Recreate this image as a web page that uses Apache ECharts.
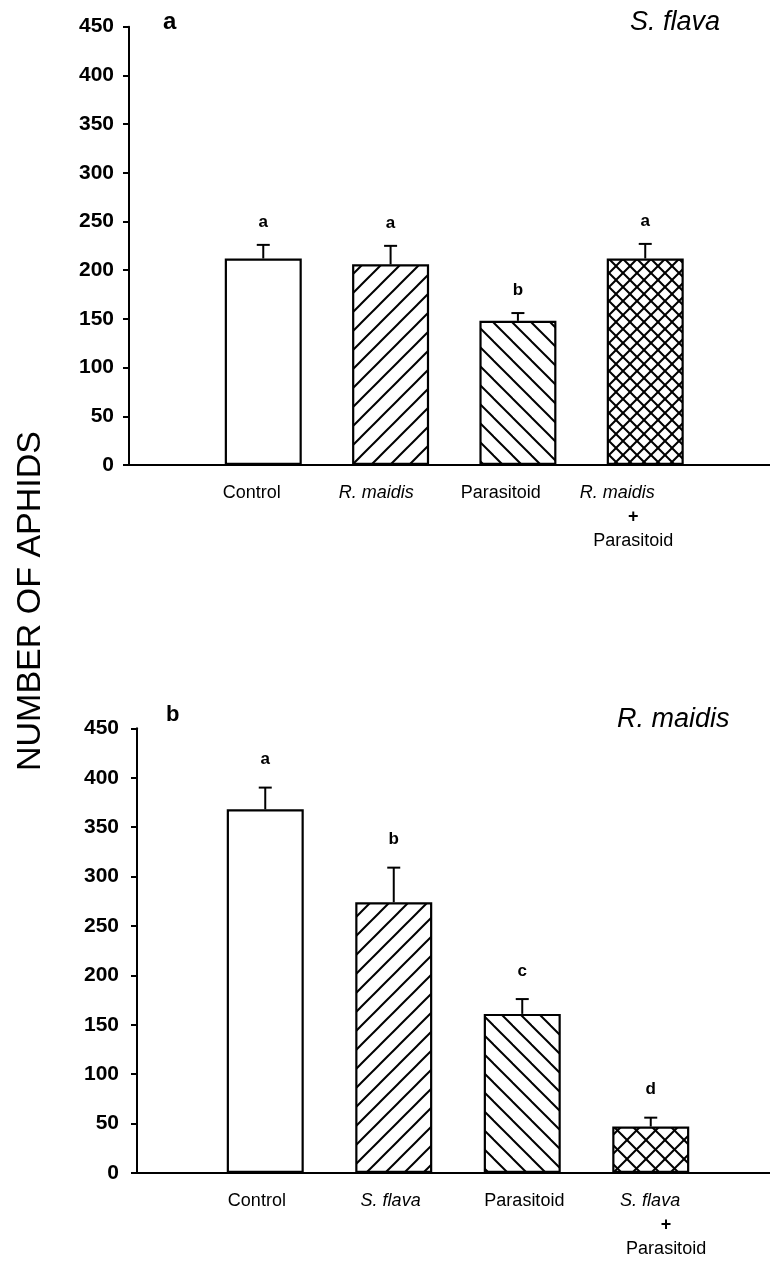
<!DOCTYPE html>
<html>
<head>
<meta charset="utf-8">
<script src="https://cdn.jsdelivr.net/npm/echarts@6/dist/echarts.min.js"></script>
<style>
html, body { margin: 0; padding: 0; background: #fff; }
#main { width: 770px; height: 1262px; }
</style>
</head>
<body>
<div id="main"></div>
<script>
// panel a : S. flava
var catsA = ['Control', 'R. maidis', 'Parasitoid', 'R. maidis + Parasitoid'];
var meanA = [212, 206, 148, 212];
var errA = [14, 19, 8, 15];
var lettersA = ['a', 'a', 'b', 'a'];
// panel b : R. maidis
var catsB = ['Control', 'S. flava', 'Parasitoid', 'S. flava + Parasitoid'];
var meanB = [368, 274, 161, 47];
var errB = [22, 35, 15, 9];
var lettersB = ['a', 'b', 'c', 'd'];
// y axis ticks
var yMin = 0, yMax = 450, yStep = 50;

var FONT = 'Arial, "Liberation Sans", sans-serif';

// hatch fills
function hatch(kind, s) {
	var c = document.createElement('canvas');
	c.width = s; c.height = s;
	var g = c.getContext('2d');
	g.fillStyle = '#fff';
	g.fillRect(0, 0, s, s);
	g.strokeStyle = '#000';
	g.lineWidth = 2;
	function seg(x1, y1, x2, y2) { g.beginPath(); g.moveTo(x1, y1); g.lineTo(x2, y2); g.stroke(); }
	if (kind == 'fwd' || kind == 'cross') {
		seg(-1, s + 1, s + 1, -1); seg(-1, 1, 1, -1); seg(s - 1, s + 1, s + 1, s - 1);
	}
	if (kind == 'back' || kind == 'cross') {
		seg(-1, -1, s + 1, s + 1); seg(s - 1, -1, s + 1, 1); seg(-1, s - 1, 1, s + 1);
	}
	return { image: c, repeat: 'repeat' };
}

var grids = [], xAxes = [], yAxes = [], series = [];

function addPanel(p) {
	var g0 = grids.length;
	// axis frame grid (y axis + long x axis line)
	grids.push({ left: p.axisX, right: 0, top: p.top, height: p.height });
	// bars grid
	grids.push({ left: p.barL, right: p.barR, top: p.top, height: p.height });
	// category labels grid
	grids.push({ left: p.labL, right: p.labR, top: p.top, height: p.height });

	xAxes.push({
		gridIndex: g0, type: 'value', min: 0, max: 1,
		axisLine: { show: true, onZero: false, lineStyle: { color: '#000', width: 2 } },
		axisTick: { show: false }, axisLabel: { show: false }, splitLine: { show: false }
	});
	yAxes.push({
		gridIndex: g0, type: 'value', min: yMin, max: yMax, interval: yStep,
		axisLine: { show: true, onZero: false, lineStyle: { color: '#000', width: 2 } },
		axisTick: { show: true, length: 6, lineStyle: { color: '#000', width: 2 } },
		axisLabel: { color: '#000', fontSize: 21, fontWeight: 'bold', fontFamily: FONT, margin: p.tickMargin },
		splitLine: { show: false }
	});

	xAxes.push({
		gridIndex: g0 + 1, type: 'category', data: p.cats,
		axisLine: { show: false }, axisTick: { show: false }, axisLabel: { show: false }
	});
	yAxes.push({ gridIndex: g0 + 1, type: 'value', min: yMin, max: yMax, show: false });

	xAxes.push({
		gridIndex: g0 + 2, type: 'category', data: p.cats,
		axisLine: { show: false }, axisTick: { show: false },
		axisLabel: {
			interval: 0, margin: 16, color: '#000', fontSize: 18, fontFamily: FONT,
			formatter: function (v) {
				var parts = v.split(' + ');
				if (parts.length == 2) return '{sp2|' + parts[0] + '}\n{pl|+}\n{pr|' + parts[1] + '}';
				if (v == 'Control' || v == 'Parasitoid') return '{n|' + v + '}';
				return '{sp|' + v + '}';
			},
			rich: {
				n: { fontSize: 18, fontFamily: FONT, color: '#000', lineHeight: 24 },
				sp: { fontSize: 18, fontFamily: FONT, fontStyle: 'italic', color: '#000', lineHeight: 24 },
				sp2: { fontSize: 18, fontFamily: FONT, fontStyle: 'italic', color: '#000', lineHeight: 24, padding: [0, 16, 0, 0] },
				pl: { fontSize: 18, fontFamily: FONT, fontWeight: 'bold', color: '#000', lineHeight: 24, padding: [0, 0, 0, 16] },
				pr: { fontSize: 18, fontFamily: FONT, color: '#000', lineHeight: 24, padding: [0, 0, 0, 16] }
			}
		}
	});
	yAxes.push({ gridIndex: g0 + 2, type: 'value', min: yMin, max: yMax, show: false });

	var fills = ['#fff', hatch('fwd', 19), hatch('back', 19), hatch('cross', p.crossStep)];
	series.push({
		type: 'bar', xAxisIndex: g0 + 1, yAxisIndex: g0 + 1, barWidth: 77,
		itemStyle: { borderColor: '#000', borderWidth: 2.2 },
		data: p.mean.map(function (v, i) { return { value: v, itemStyle: { color: fills[i] } }; }),
		z: 2
	});
	series.push({
		type: 'custom', xAxisIndex: g0 + 1, yAxisIndex: g0 + 1, z: 3,
		data: p.mean.map(function (v, i) { return [i, v, p.err[i]]; }),
		encode: { x: 0, y: 1 },
		renderItem: function (params, api) {
			var i = api.value(0), m = api.value(1), e = api.value(2);
			var base = api.coord([i, m]);
			var tip = api.coord([i, m + e]);
			return {
				type: 'group',
				children: [
					{ type: 'line', shape: { x1: base[0], y1: base[1], x2: tip[0], y2: tip[1] }, style: { stroke: '#000', lineWidth: 2 } },
					{ type: 'line', shape: { x1: tip[0] - 6.5, y1: tip[1], x2: tip[0] + 6.5, y2: tip[1] }, style: { stroke: '#000', lineWidth: 2 } },
					{ type: 'text', x: tip[0], y: tip[1] - p.gap, style: { text: p.letters[params.dataIndex], fill: '#000', font: 'bold 17px ' + FONT, align: 'center', verticalAlign: 'middle' } }
				]
			};
		}
	});
}

addPanel({ top: 26.7, height: 438.3, axisX: 129, barL: 199.6, barR: 61.1, labL: 189.5, labR: 82.5,
	cats: catsA, mean: meanA, err: errA, letters: lettersA, crossStep: 14, gap: 23, tickMargin: 15 });
addPanel({ top: 728.3, height: 444.7, axisX: 137, barL: 201, barR: 55, labL: 190, labR: 45,
	cats: catsB, mean: meanB, err: errB, letters: lettersB, crossStep: 19, gap: 28, tickMargin: 18 });

var chart = echarts.init(document.getElementById('main'));
chart.setOption({
	backgroundColor: '#fff',
	animation: false,
	title: [
		{ text: 'a', left: 163, top: 10, padding: 0, textStyle: { fontSize: 24, fontWeight: 'bold', fontFamily: FONT, color: '#000' } },
		{ text: 'S. flava', left: 630, top: 9, padding: 0, textStyle: { fontSize: 27, fontWeight: 'normal', fontStyle: 'italic', fontFamily: FONT, color: '#000' } },
		{ text: 'b', left: 166, top: 704, padding: 0, textStyle: { fontSize: 22, fontWeight: 'bold', fontFamily: FONT, color: '#000' } },
		{ text: 'R. maidis', left: 617, top: 706, padding: 0, textStyle: { fontSize: 27, fontWeight: 'normal', fontStyle: 'italic', fontFamily: FONT, color: '#000' } }
	],
	graphic: [{
		type: 'text', x: 31, y: 601, rotation: Math.PI / 2,
		style: { text: 'NUMBER OF APHIDS', font: '34px ' + FONT, fill: '#000', align: 'center', verticalAlign: 'middle' }
	}],
	grid: grids,
	xAxis: xAxes,
	yAxis: yAxes,
	series: series
});
</script>
</body>
</html>
